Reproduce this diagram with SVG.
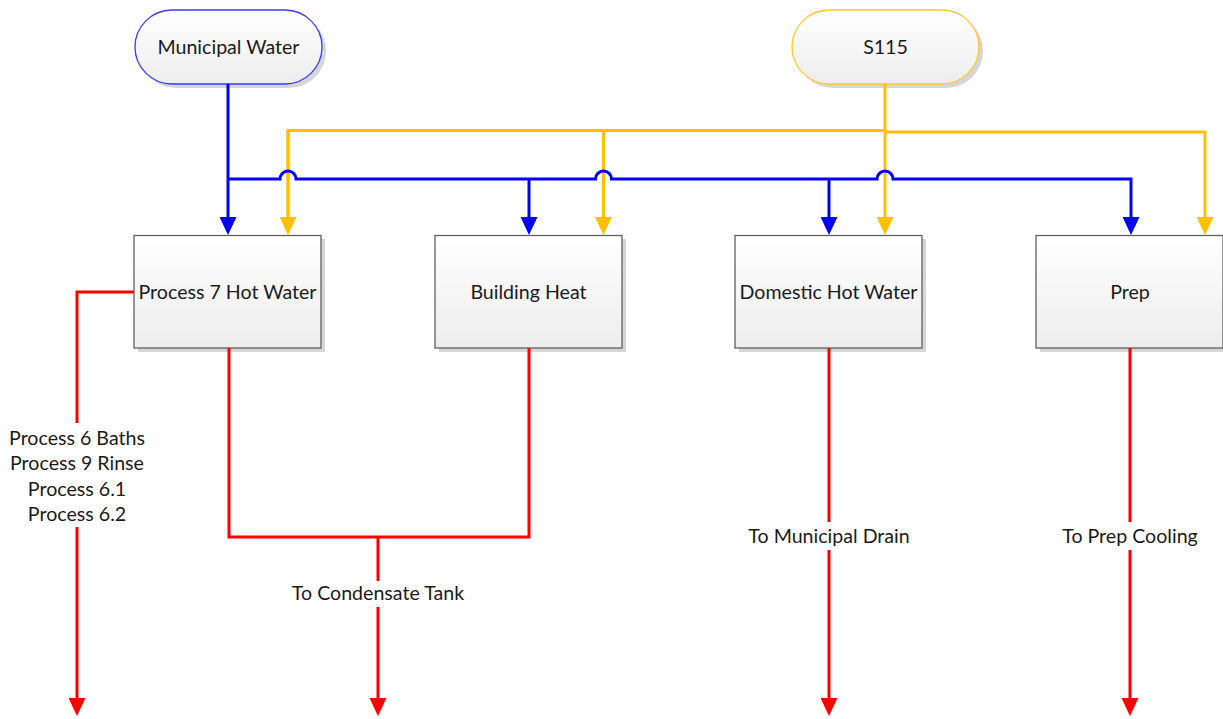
<svg xmlns="http://www.w3.org/2000/svg" width="1223" height="719" viewBox="0 0 1223 719">
  <style>
    .lbl { font-family: Lato, "Open Sans", "Liberation Sans", sans-serif; font-size: 19.6px; fill: #1a1a1a; text-anchor: middle; dominant-baseline: central; }
    .box { fill: url(#boxGrad); stroke: #606060; stroke-width: 1.3; }
    .shadow { fill: #d6d6d6; }
    .blue { fill: none; stroke: #0000FF; stroke-width: 3; }
    .yellow { fill: none; stroke: #FFC000; stroke-width: 3; }
    .red { fill: none; stroke: #FF0000; stroke-width: 3; }
  </style>
  <defs>
    <linearGradient id="boxGrad" x1="0" y1="0" x2="0" y2="1">
      <stop offset="0" stop-color="#ffffff"/>
      <stop offset="1" stop-color="#ededed"/>
    </linearGradient>
    <marker id="arBlue" markerUnits="userSpaceOnUse" markerWidth="18" markerHeight="17" refX="8" refY="8.5" orient="auto">
      <path d="M0,0 L18,8.5 L0,17 z" fill="#0000FF"/>
    </marker>
    <marker id="arYellow" markerUnits="userSpaceOnUse" markerWidth="18" markerHeight="17" refX="8" refY="8.5" orient="auto">
      <path d="M0,0 L18,8.5 L0,17 z" fill="#FFC000"/>
    </marker>
    <marker id="arRed" markerUnits="userSpaceOnUse" markerWidth="18" markerHeight="17" refX="8" refY="8.5" orient="auto">
      <path d="M0,0 L18,8.5 L0,17 z" fill="#FF0000"/>
    </marker>
  </defs>
  <rect width="1223" height="719" fill="#ffffff"/>

  <g id="municipal-water">
    <rect class="shadow" x="139" y="14" width="187" height="74" rx="37"/>
    <rect x="135" y="10" width="187" height="74" rx="37" fill="url(#boxGrad)" stroke="#3a3aff" stroke-width="1.3"/>
    <text class="lbl" x="228.5" y="46">Municipal Water</text>
  </g>
  <g id="s115">
    <rect class="shadow" x="796" y="14" width="187" height="74" rx="37"/>
    <rect x="792" y="10" width="187" height="74" rx="37" fill="url(#boxGrad)" stroke="#FFC830" stroke-width="1.3"/>
    <text class="lbl" x="885.5" y="46">S115</text>
  </g>

  <g id="process7">
    <rect class="shadow" x="138" y="239" width="187" height="113"/>
    <rect class="box" x="134" y="235.5" width="187" height="112.5"/>
    <text class="lbl" x="227.5" y="291">Process 7 Hot Water</text>
  </g>
  <g id="building-heat">
    <rect class="shadow" x="439" y="239" width="187" height="113"/>
    <rect class="box" x="435" y="235.5" width="187" height="112.5"/>
    <text class="lbl" x="528.5" y="291">Building Heat</text>
  </g>
  <g id="domestic-hot-water">
    <rect class="shadow" x="739" y="239" width="187" height="113"/>
    <rect class="box" x="735" y="235.5" width="187" height="112.5"/>
    <text class="lbl" x="828.5" y="291">Domestic Hot Water</text>
  </g>
  <g id="prep">
    <rect class="shadow" x="1040" y="239" width="187" height="113"/>
    <rect class="box" x="1036" y="235.5" width="187" height="112.5"/>
    <text class="lbl" x="1130" y="291">Prep</text>
  </g>

  <g id="connectors">
    <!-- yellow supply -->
    <path class="yellow" d="M288,225 V130.5 H885"/>
    <path class="yellow" d="M885,132 H1205 V225" marker-end="url(#arYellow)"/>
    <path class="yellow" d="M288,131 V225" marker-end="url(#arYellow)"/>
    <path class="yellow" d="M603.5,130.5 V225" marker-end="url(#arYellow)"/>
    <path class="yellow" d="M885,84 V225" marker-end="url(#arYellow)"/>
    <!-- blue supply -->
    <path class="blue" d="M228,84 V225" marker-end="url(#arBlue)"/>
    <path class="blue" d="M228,179 H280 A8,8 0 0 1 296,179 H595.5 A8,8 0 0 1 611.5,179 H877 A8,8 0 0 1 893,179 H1131 V225" marker-end="url(#arBlue)"/>
    <path class="blue" d="M529,179 V225" marker-end="url(#arBlue)"/>
    <path class="blue" d="M829,179 V225" marker-end="url(#arBlue)"/>
    <!-- red outflows -->
    <path class="red" d="M134,292 H77 V423"/>
    <path class="red" d="M77,527 V706" marker-end="url(#arRed)"/>
    <path class="red" d="M229,348 V537 H529 V348"/>
    <path class="red" d="M378,537 V581"/>
    <path class="red" d="M378,607 V706" marker-end="url(#arRed)"/>
    <path class="red" d="M829,348 V522"/>
    <path class="red" d="M829,550 V706" marker-end="url(#arRed)"/>
    <path class="red" d="M1130,348 V522"/>
    <path class="red" d="M1130,550 V706" marker-end="url(#arRed)"/>
  </g>

  <g id="labels">
    <text class="lbl" x="77" y="437">Process 6 Baths</text>
    <text class="lbl" x="77" y="462.5">Process 9 Rinse</text>
    <text class="lbl" x="77" y="488">Process 6.1</text>
    <text class="lbl" x="77" y="513.5">Process 6.2</text>
    <text class="lbl" x="378" y="592">To Condensate Tank</text>
    <text class="lbl" x="829" y="535">To Municipal Drain</text>
    <text class="lbl" x="1130" y="535">To Prep Cooling</text>
  </g>
</svg>
